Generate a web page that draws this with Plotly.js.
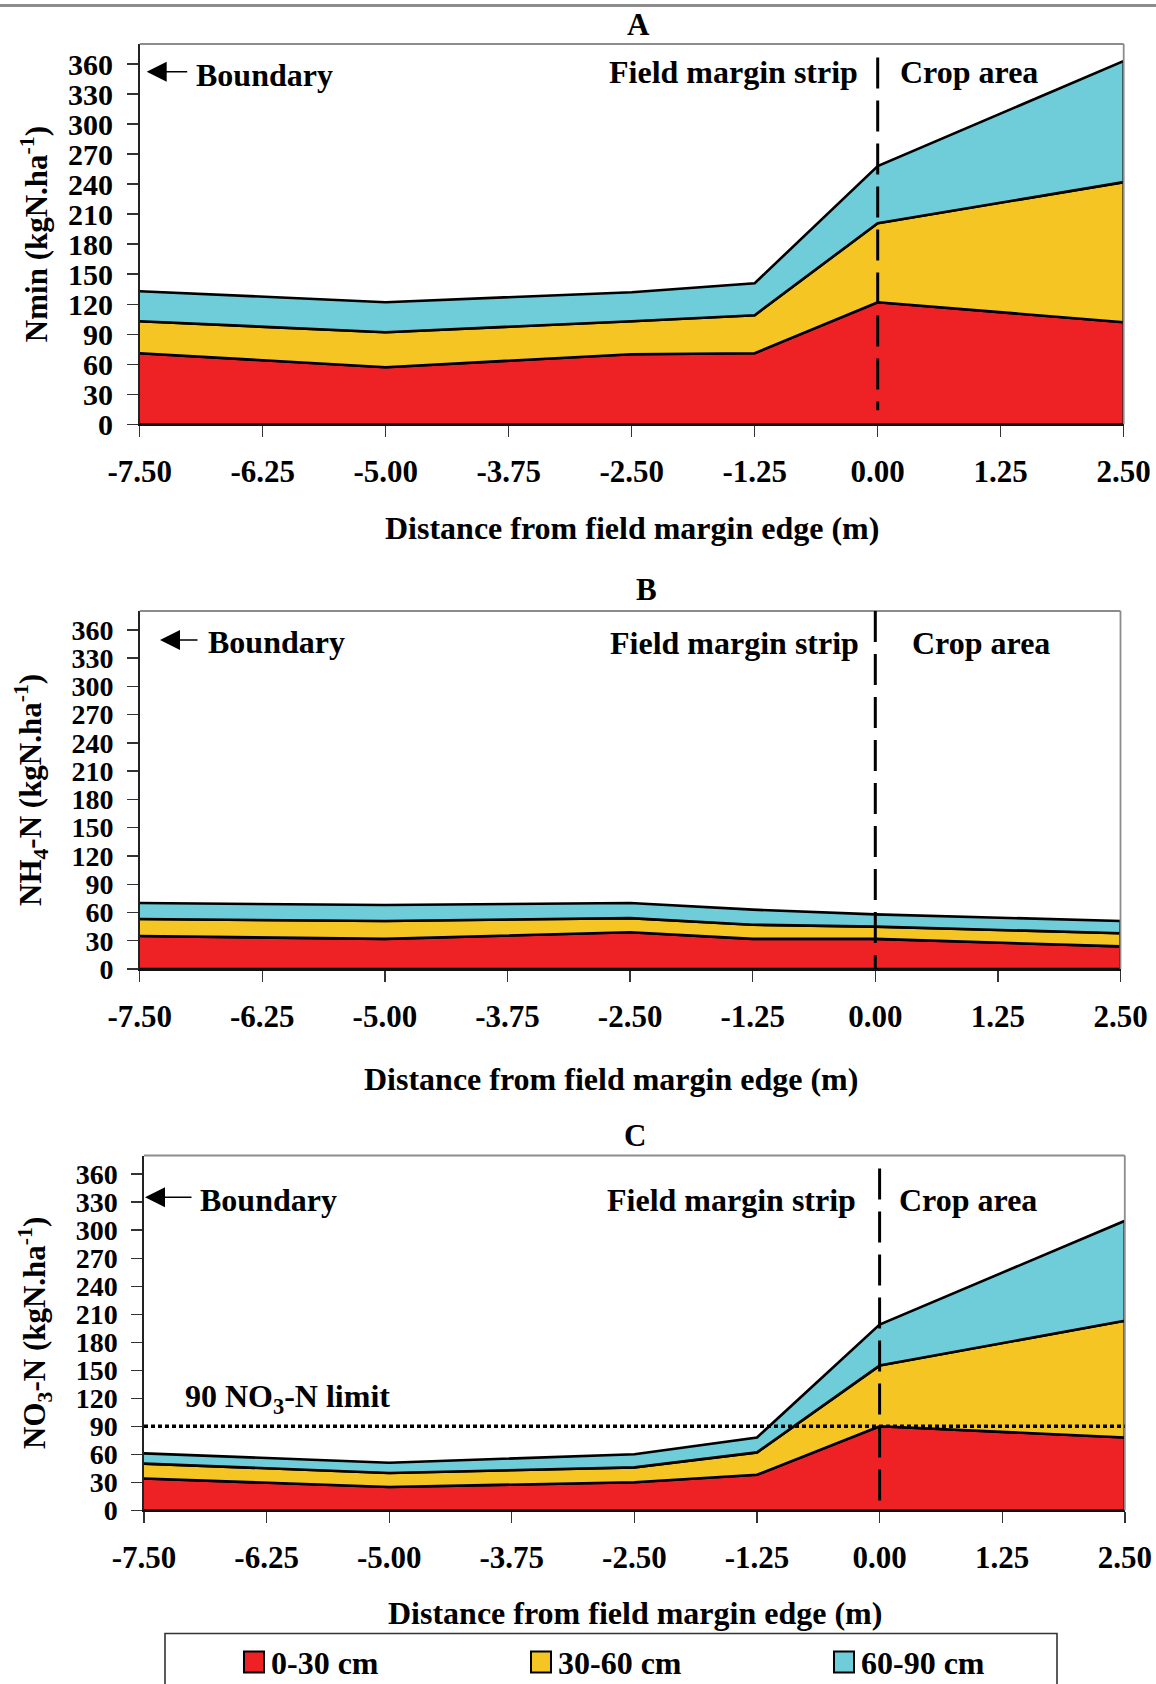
<!DOCTYPE html>
<html>
<head>
<meta charset="utf-8">
<script src="https://cdn.plot.ly/plotly-3.0.1.min.js"></script>
<style>
  html, body { margin: 0; padding: 0; background: #fff; }
  #chart { width: 1156px; height: 1684px; }
</style>
</head>
<body>
<div id="chart"></div>
<script>
// Sampling positions: distance from the field margin edge (m)
const distance = [-7.5, -5.0, -2.5, -1.25, 0, 2.5];

// Soil depth layers and their fill colours
const depthLayers = ['0-30 cm', '30-60 cm', '60-90 cm'];
const layerColors = ['#EE2225', '#F5C623', '#6FCCD9'];

// A: mineral N (kgN.ha-1) per layer
const nmin_0_30  = [71, 57, 70, 71, 122, 102];
const nmin_30_60 = [32, 35, 33, 38, 79, 140];
const nmin_60_90 = [30, 30, 29, 32, 57, 121];

// B: NH4-N (kgN.ha-1) per layer
const nh4_0_30  = [35, 32, 39, 32, 32, 24];
const nh4_30_60 = [18, 19, 15, 15, 13, 14];
const nh4_60_90 = [17, 17, 16, 16, 13, 13];

// C: NO3-N (kgN.ha-1) per layer
const no3_0_30  = [34, 25, 30, 38, 90, 78];
const no3_30_60 = [16, 15, 16, 24, 65, 125];
const no3_60_90 = [11, 11, 14, 16, 44, 107];

// Axis ticks
const xTickVals   = [-7.5, -6.25, -5, -3.75, -2.5, -1.25, 0, 1.25, 2.5];
const xTickLabels = ['-7.50', '-6.25', '-5.00', '-3.75', '-2.50', '-1.25', '0.00', '1.25', '2.50'];
const yTickVals   = [0, 30, 60, 90, 120, 150, 180, 210, 240, 270, 300, 330, 360];
const yTickLabels = ['0', '30', '60', '90', '120', '150', '180', '210', '240', '270', '300', '330', '360'];

// Nitrate threshold shown on panel C
const nitrateLimit = 90;

// ---- page geometry (pixels) ----
const W = 1156, H = 1684;
const px = v => v / W;
const py = v => 1 - v / H;

const FONT = 'Liberation Serif, Times New Roman, serif';
const txt = (size) => ({ family: FONT, size: size, color: '#000', weight: 700 });

const panels = [
  { key: '',  letter: 'A', left: 139.7, right: 1123.7, top: 44,    bottom: 424.3, yTickSize: 30,
    layers: [nmin_0_30, nmin_30_60, nmin_60_90],
    ytitle: 'Nmin (kgN.ha<sup>-1</sup>)', ytitleX: 34,
    titleX: 638, titleY: 24, xtitleX: 631.7, xtitleY: 527.5,
    divTop: 366.5, divBottom: 14,
    arrowTip: [146.7, 71.7], arrowLen: 42, boundX: 194, boundY: 75,
    labelY: 72, stripRight: 860, cropLeft: 898 },
  { key: '2', letter: 'B', left: 139.7, right: 1120.5, top: 611,   bottom: 969, yTickSize: 28,
    layers: [nh4_0_30, nh4_30_60, nh4_60_90],
    ytitle: 'NH<sub>4</sub>-N (kgN.ha<sup>-1</sup>)', ytitleX: 31,
    titleX: 646, titleY: 589, xtitleX: 610.7, xtitleY: 1078.6,
    divTop: 380, divBottom: 0,
    arrowTip: [160, 640], arrowLen: 39, boundX: 206, boundY: 642,
    labelY: 643, stripRight: 861, cropLeft: 910 },
  { key: '3', letter: 'C', left: 144,   right: 1124.8, top: 1155.5, bottom: 1510.3, yTickSize: 28,
    layers: [no3_0_30, no3_30_60, no3_60_90],
    ytitle: 'NO<sub>3</sub>-N (kgN.ha<sup>-1</sup>)', ytitleX: 35,
    titleX: 635, titleY: 1135, xtitleX: 635, xtitleY: 1613,
    divTop: 366, divBottom: 0,
    arrowTip: [145, 1197.3], arrowLen: 48, boundX: 198, boundY: 1200,
    labelY: 1200, stripRight: 858, cropLeft: 897 }
];

const traces = [];
const shapes = [];
const annotations = [];
const layout = {
  width: W, height: H,
  margin: { l: 0, r: 0, t: 0, b: 0, autoexpand: false },
  paper_bgcolor: '#fff', plot_bgcolor: '#fff',
  showlegend: false,
  font: txt(30)
};

panels.forEach(p => {
  const xa = 'x' + p.key, ya = 'y' + p.key;

  // stacked layers drawn as closed outlined polygons
  let base = distance.map(() => 0);
  p.layers.forEach((vals, i) => {
    const top = base.map((b, j) => b + vals[j]);
    traces.push({
      type: 'scatter', mode: 'lines', xaxis: xa, yaxis: ya,
      name: depthLayers[i],
      x: distance.concat(distance.slice().reverse()),
      y: top.concat(base.slice().reverse()),
      fill: 'toself', fillcolor: layerColors[i],
      line: { color: '#000', width: 2.6 },
      hoverinfo: 'skip'
    });
    base = top;
  });

  layout['xaxis' + p.key] = {
    domain: [px(p.left), px(p.right)], anchor: ya,
    range: [-7.5, 2.5], fixedrange: true,
    tickmode: 'array', tickvals: xTickVals, ticktext: xTickLabels,
    ticks: 'outside', ticklen: 11, tickwidth: 1.4, tickcolor: '#333',
    showline: true, linecolor: '#111', linewidth: 1.6,
    showgrid: false, zeroline: false,
    tickfont: txt(31), ticklabelstandoff: 8
  };
  layout['yaxis' + p.key] = {
    domain: [py(p.bottom), py(p.top)], anchor: xa,
    range: [0, 380], fixedrange: true,
    tickmode: 'array', tickvals: yTickVals, ticktext: yTickLabels,
    ticks: 'outside', ticklen: 11, tickwidth: 1.4, tickcolor: '#333',
    showline: true, linecolor: '#222', linewidth: 1.6,
    showgrid: false, zeroline: false,
    tickfont: txt(p.yTickSize), ticklabelstandoff: 8
  };

  // grey frame on top and right of the plot area
  shapes.push({ type: 'line', xref: xa + ' domain', yref: ya + ' domain', x0: 0, x1: 1, y0: 1, y1: 1,
                line: { color: '#8c8c8c', width: 1.8 } });
  shapes.push({ type: 'line', xref: xa + ' domain', yref: ya + ' domain', x0: 1, x1: 1, y0: 0, y1: 1,
                line: { color: '#8c8c8c', width: 1.8 } });

  // boundary between the field margin strip and the crop area
  shapes.push({ type: 'line', xref: xa, yref: ya, x0: 0, x1: 0, y0: p.divTop, y1: p.divBottom,
                line: { color: '#000', width: 3, dash: '31px,12px' } });

  // panel letter
  annotations.push({ xref: 'paper', yref: 'paper', x: px(p.titleX), y: py(p.titleY),
                     xanchor: 'center', yanchor: 'middle', showarrow: false,
                     text: p.letter, font: txt(31) });
  // y-axis title
  annotations.push({ xref: 'paper', yref: 'paper', x: px(p.ytitleX), y: py((p.top + p.bottom) / 2),
                     xanchor: 'center', yanchor: 'middle', showarrow: false, textangle: -90,
                     text: p.ytitle, font: txt(31) });
  // x-axis title
  annotations.push({ xref: 'paper', yref: 'paper', x: px(p.xtitleX), y: py(p.xtitleY),
                     xanchor: 'center', yanchor: 'middle', showarrow: false,
                     text: 'Distance from field margin edge (m)', font: txt(32) });
  // boundary arrow and label
  annotations.push({ xref: 'paper', yref: 'paper', x: px(p.arrowTip[0]), y: py(p.arrowTip[1]),
                     ax: p.arrowLen, ay: 0, text: '', showarrow: true, standoff: 0,
                     arrowhead: 2, arrowsize: 2.5, arrowwidth: 1.6, arrowcolor: '#000' });
  annotations.push({ xref: 'paper', yref: 'paper', x: px(p.boundX), y: py(p.boundY),
                     xanchor: 'left', yanchor: 'middle', showarrow: false,
                     text: 'Boundary', font: txt(32) });
  // zone labels
  annotations.push({ xref: 'paper', yref: 'paper', x: px(p.stripRight), y: py(p.labelY),
                     xanchor: 'right', yanchor: 'middle', showarrow: false,
                     text: 'Field margin strip', font: txt(32) });
  annotations.push({ xref: 'paper', yref: 'paper', x: px(p.cropLeft), y: py(p.labelY),
                     xanchor: 'left', yanchor: 'middle', showarrow: false,
                     text: 'Crop area', font: txt(32) });
});

// nitrate limit line and label on panel C
shapes.push({ type: 'line', xref: 'x3', yref: 'y3', x0: -7.5, x1: 2.5, y0: nitrateLimit, y1: nitrateLimit,
              line: { color: '#000', width: 3.4, dash: '4px,3px' } });
annotations.push({ xref: 'paper', yref: 'paper', x: px(183), y: py(1398),
                   xanchor: 'left', yanchor: 'middle', showarrow: false,
                   text: nitrateLimit + ' NO<sub>3</sub>-N limit', font: txt(32) });

// rule across the top of the page
shapes.push({ type: 'line', xref: 'paper', yref: 'paper', x0: 0, x1: 1, y0: py(5.5), y1: py(5.5),
              line: { color: '#8c8c8c', width: 3 } });

// legend box with one swatch per depth layer
shapes.push({ type: 'rect', xref: 'paper', yref: 'paper', x0: px(165), x1: px(1057), y0: py(1633.5), y1: py(1700),
              line: { color: '#333', width: 1.6 }, fillcolor: 'rgba(0,0,0,0)' });
const swatchLeft = [244, 531, 834];
depthLayers.forEach((name, i) => {
  shapes.push({ type: 'rect', xref: 'paper', yref: 'paper',
                x0: px(swatchLeft[i]), x1: px(swatchLeft[i] + 20), y0: py(1651.5), y1: py(1672.5),
                line: { color: '#000', width: 2 }, fillcolor: layerColors[i] });
  annotations.push({ xref: 'paper', yref: 'paper', x: px(swatchLeft[i] + 25), y: py(1663),
                     xanchor: 'left', yanchor: 'middle', showarrow: false,
                     text: name, font: txt(32) });
});

layout.shapes = shapes;
layout.annotations = annotations;

Plotly.newPlot('chart', traces, layout, { staticPlot: true, displayModeBar: false });
</script>
</body>
</html>
